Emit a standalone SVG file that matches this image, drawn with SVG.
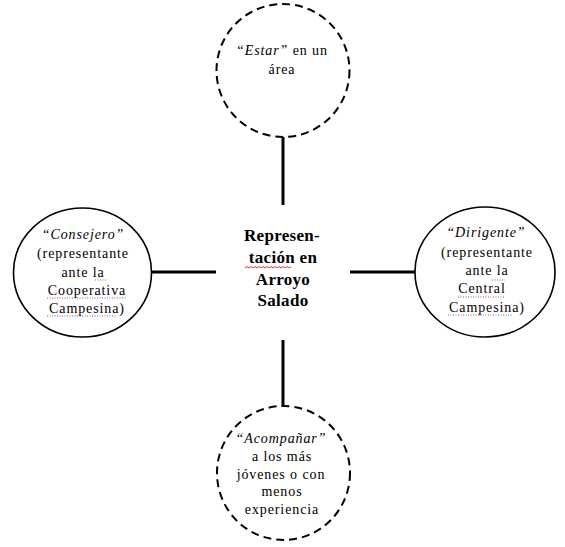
<svg xmlns="http://www.w3.org/2000/svg" width="565" height="547" viewBox="0 0 565 547">
<style>
.bg{fill:#fff}
.solid{fill:#fff;stroke:#000;stroke-width:1.6}
.dash{fill:#fff;stroke:#000;stroke-width:2;stroke-dasharray:8 5}
.conn{stroke:#000;stroke-width:3;fill:none}
.t{font-family:"Liberation Serif","Times New Roman",serif;font-size:14px;letter-spacing:0.9px;fill:#000;text-anchor:middle}
.c{font-family:"Liberation Serif","Times New Roman",serif;font-size:17px;font-weight:bold;letter-spacing:0.3px;fill:#000;text-anchor:middle}
.it{font-style:italic}
.dot{stroke:#9b4fa0;stroke-width:1;stroke-dasharray:1 1.5;fill:none}
.wave{stroke:#e02020;stroke-width:0.9;fill:none}
</style>
<rect class="bg" width="565" height="547"/>
<g id="connectors">
<line class="conn" x1="283" y1="137" x2="283" y2="205"/>
<line class="conn" x1="283" y1="340" x2="283" y2="407"/>
<line class="conn" x1="150" y1="272" x2="216" y2="272"/>
<line class="conn" x1="350" y1="272" x2="416" y2="272"/>
</g>
<g id="estar">
<ellipse class="dash" cx="283" cy="70.5" rx="66.5" ry="66.5"/>
<text class="t" x="282" y="55"><tspan class="it">“Estar”</tspan> en un</text>
<text class="t" x="282" y="74">área</text>
</g>
<g id="consejero">
<ellipse class="solid" cx="82.5" cy="272.5" rx="69" ry="64.5"/>
<text class="t" x="83" y="239"><tspan class="it">“Consejero”</tspan></text>
<text class="t" x="83" y="258">(representante</text>
<text class="t" x="83" y="277">ante la</text>
<text class="t" x="87" y="295">Cooperativa</text>
<text class="t" x="87" y="313">Campesina)</text>
<path class="dot" d="M95 280H107M47 298H127M47 316H117"/>
</g>
<g id="dirigente">
<ellipse class="solid" cx="485" cy="272" rx="70" ry="65"/>
<text class="t" x="486" y="237"><tspan class="it">“Dirigente”</tspan></text>
<text class="t" x="487" y="257">(representante</text>
<text class="t" x="487" y="275">ante la</text>
<text class="t" x="482" y="293">Central</text>
<text class="t" x="487" y="312">Campesina)</text>
<path class="dot" d="M492 280H505M458 297H505M448 315H512"/>
</g>
<g id="representacion">
<text class="c" x="282" y="241">Represen-</text>
<text class="c" x="283" y="263">tación en</text>
<text class="c" x="283" y="285">Arroyo</text>
<text class="c" x="283" y="306">Salado</text>
<path class="wave" d="M245 268l2-1.5 2 1.5 2-1.5 2 1.5 2-1.5 2 1.5 2-1.5 2 1.5 2-1.5 2 1.5 2-1.5 2 1.5 2-1.5 2 1.5 2-1.5 2 1.5 2-1.5 2 1.5 2-1.5 2 1.5 2-1.5 2 1.5 2-1.5"/>
</g>
<g id="acompanar">
<ellipse class="dash" cx="283.5" cy="473" rx="66.5" ry="67"/>
<text class="t" x="281" y="443"><tspan class="it">“Acompañar”</tspan></text>
<text class="t" x="282" y="461">a los más</text>
<text class="t" x="281" y="479">jóvenes o con</text>
<text class="t" x="282" y="496">menos</text>
<text class="t" x="282" y="514">experiencia</text>
</g>
</svg>
